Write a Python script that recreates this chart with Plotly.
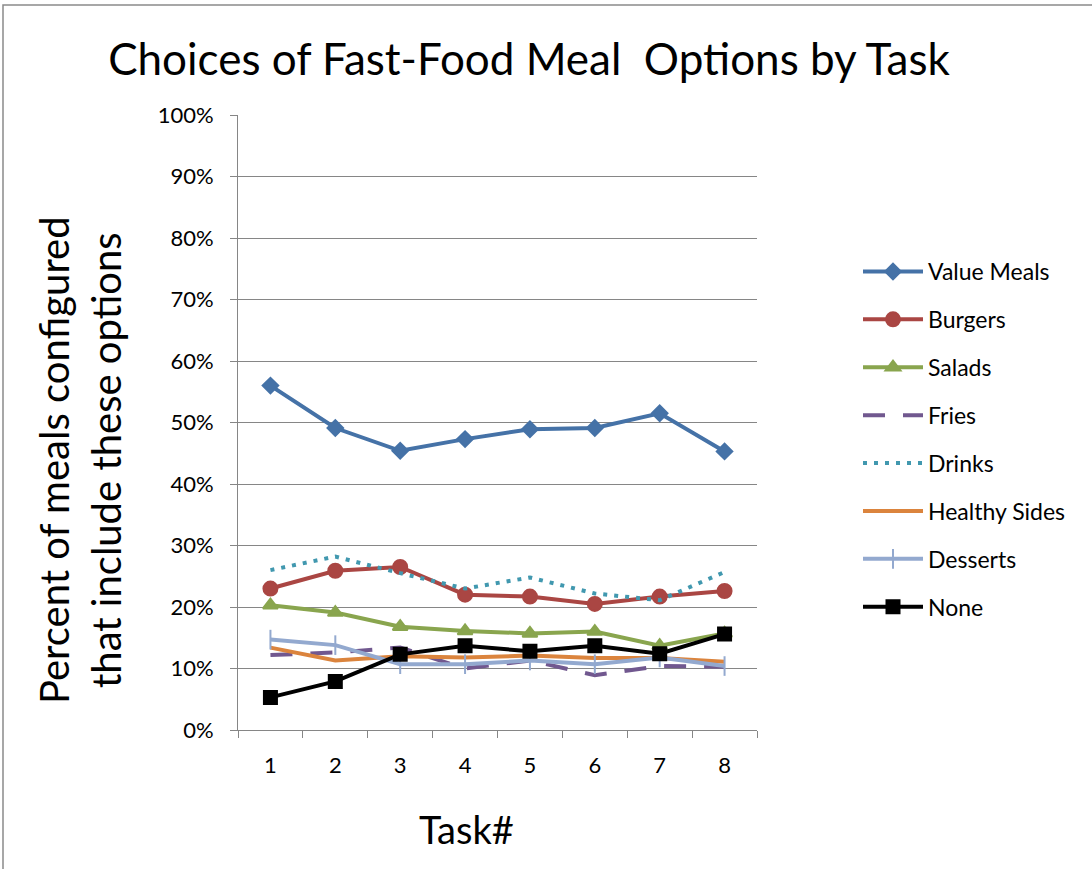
import plotly.graph_objects as go

tasks = ["1", "2", "3", "4", "5", "6", "7", "8"]
value_meals = [0.560, 0.491, 0.454, 0.473, 0.489, 0.491, 0.515, 0.453]
burgers = [0.230, 0.259, 0.265, 0.220, 0.217, 0.205, 0.217, 0.226]
salads = [0.203, 0.191, 0.168, 0.161, 0.157, 0.160, 0.137, 0.157]
fries = [0.122, 0.126, 0.134, 0.100, 0.113, 0.089, 0.104, 0.103]
drinks = [0.260, 0.282, 0.255, 0.230, 0.248, 0.222, 0.211, 0.257]
healthy_sides = [0.134, 0.113, 0.120, 0.118, 0.121, 0.117, 0.117, 0.111]
desserts = [0.147, 0.138, 0.107, 0.107, 0.113, 0.107, 0.118, 0.104]
none = [0.053, 0.079, 0.123, 0.137, 0.128, 0.137, 0.124, 0.156]

series = [
    ("Value Meals", value_meals, "#4572A7", "solid", "diamond", 12),
    ("Burgers", burgers, "#AA4643", "solid", "circle", 14),
    ("Salads", salads, "#89A54E", "solid", "triangle-up", 13),
    ("Fries", fries, "#71588F", "22px,18px", None, 0),
    ("Drinks", drinks, "#4198AF", "4px,7px", None, 0),
    ("Healthy Sides", healthy_sides, "#DB843D", "solid", None, 0),
    ("Desserts", desserts, "#93A9CF", "solid", "line-ns", 14),
    ("None", none, "#000000", "solid", "square", 13),
]

fig = go.Figure()
for name, vals, color, dash, sym, size in series:
    kw = dict(mode="lines")
    if sym:
        kw = dict(mode="lines+markers",
                  marker=dict(symbol=sym, size=size, color=color,
                              line=dict(color=color, width=2)))
    fig.add_trace(go.Scatter(
        x=tasks, y=vals, name=name, legendgroup=name,
        line=dict(color=color, width=4, dash=dash), **kw))

W, H = 1092, 869
L, R, T, B = 238, 757, 115, 730
pw, ph = R - L, B - T

def px(x):
    return (x - L) / pw

def py(y):
    return (B - y) / ph

fig.add_shape(type="rect", xref="paper", yref="paper",
              x0=px(3), x1=px(1200), y0=py(1000), y1=py(5),
              line=dict(color="#8a8a8a", width=1.5), fillcolor="rgba(0,0,0,0)",
              layer="below")

font = "Lato"
fig.add_annotation(text="Task#", xref="paper", yref="paper",
                   x=px(466), y=py(829), xanchor="center", yanchor="middle",
                   showarrow=False, font=dict(family=font, size=38, color="black"))
fig.add_annotation(text="Percent of meals configured<br>that include these options",
                   xref="paper", yref="paper", x=px(80), y=py(460),
                   xanchor="center", yanchor="middle", textangle=-90,
                   showarrow=False, font=dict(family=font, size=40, color="black"))

fig.update_layout(
    width=W, height=H, autosize=False,
    margin=dict(l=L, r=W - R, t=T, b=H - B),
    paper_bgcolor="white", plot_bgcolor="white",
    title=dict(text="Choices of Fast-Food Meal  Options by Task",
               x=px(529), xanchor="center", y=1 - 60 / H, yanchor="middle",
               xref="paper",
               font=dict(family=font, size=44, color="black")),
    font=dict(family=font, color="black"),
    xaxis=dict(type="category", tickson="boundaries", ticks="outside",
               ticklen=7, tickcolor="#868686", showline=True,
               linecolor="#868686", linewidth=1, showgrid=False,
               tickfont=dict(size=22), ticklabelstandoff=16,
               range=[-0.5, 7.5]),
    yaxis=dict(range=[0, 1], tickformat=".0%", dtick=0.1, ticks="outside",
               ticklen=7, tickcolor="#868686", showline=True,
               linecolor="#868686", linewidth=1, showgrid=True,
               gridcolor="#868686", gridwidth=1, zeroline=False,
               tickfont=dict(size=22), ticklabelstandoff=12),
    legend=dict(x=px(858), xanchor="left", y=py(250), yanchor="top",
                font=dict(size=23), tracegroupgap=15, itemwidth=60,
                bgcolor="rgba(0,0,0,0)"),
    showlegend=True,
)

fig.write_html("out.html")
